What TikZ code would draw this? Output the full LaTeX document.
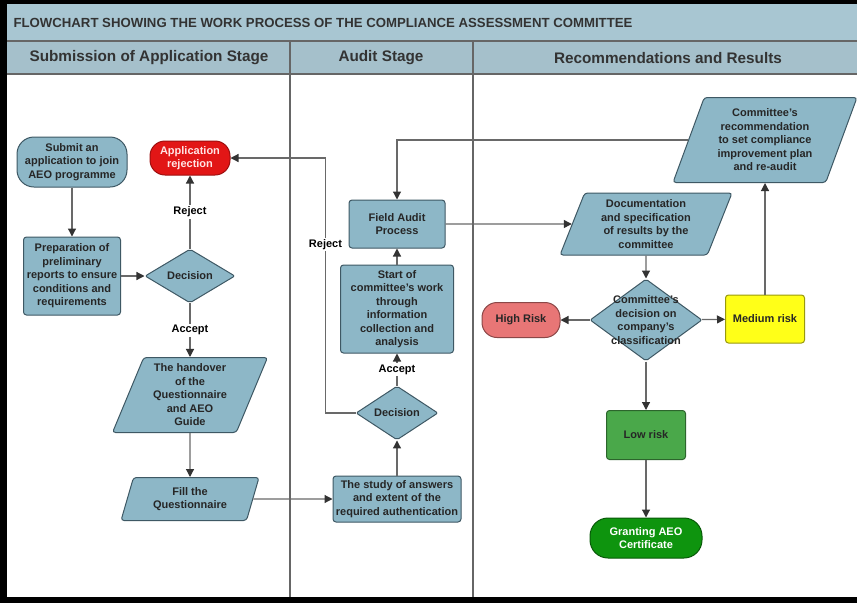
\documentclass[tikz,border=0pt]{standalone}
\usepackage{fontspec}
\setmainfont{Liberation Sans}
\usetikzlibrary{arrows.meta, shapes.geometric, positioning}

\definecolor{boxblue}{RGB}{141,183,199}
\definecolor{boxline}{RGB}{62,88,100}
\definecolor{headblue}{RGB}{168,198,210}
\definecolor{flowgray}{RGB}{105,105,105}
\definecolor{rejectred}{RGB}{226,22,22}
\definecolor{highred}{RGB}{232,118,118}
\definecolor{medyellow}{RGB}{255,255,24}
\definecolor{lowgreen}{RGB}{74,168,74}
\definecolor{grantgreen}{RGB}{14,148,14}

\tikzset{
  box/.style={draw=boxline, fill=boxblue, line width=1pt, rounded corners=3pt,
    align=center, inner sep=1pt, text=black!85,
    font=\fontsize{11}{13.5}\selectfont\bfseries},
  term/.style={box, rounded corners=17pt},
  decision/.style={box, diamond, rounded corners=2pt, inner sep=0pt},
  data/.style={box, trapezium, trapezium left angle=64, trapezium right angle=116,
    trapezium stretches body, rounded corners=3pt},
  lbl/.style={fill=white, inner sep=1.5pt, font=\fontsize{11}{13.5}\selectfont\bfseries},
  flow/.style={->, draw=flowgray, line width=1.2pt},
  lane/.style={draw=gray!80!black, line width=1.3pt},
}

\begin{document}
\begin{tikzpicture}[x=1pt, y=-1pt, >={Triangle[length=8pt,width=8pt,color=black!80]}]

    \useasboundingbox (0,0) rectangle (857,603);

    % frame, title and lane heads
    \fill[black] (0,0) rectangle (857,603);
    \fill[white] (7,4) rectangle (857,597);
    \fill[headblue] (7,4) rectangle (857,41);
    \fill[headblue!92!gray] (7,41) rectangle (857,74);
    \draw[lane] (7,41) -- (857,41) (7,74) -- (857,74);
    \draw[lane] (290,41) -- (290,597) (473,41) -- (473,597);

    \node[anchor=west, font=\fontsize{13.2}{15}\selectfont\bfseries, text=black!80] (title) at (10,23)
        {FLOWCHART SHOWING THE WORK PROCESS OF THE COMPLIANCE ASSESSMENT COMMITTEE};
    \node[font=\fontsize{15.3}{17}\selectfont\bfseries, text=black!80] (head_sub) at (149,58) {Submission of Application Stage};
    \node[font=\fontsize{15.3}{17}\selectfont\bfseries, text=black!80] (head_aud) at (381,58) {Audit Stage};
    \node[font=\fontsize{15.3}{17}\selectfont\bfseries, text=black!80] (head_rec) at (668,58) {Recommendations and Results};

    % submission of application
    \node[term, minimum width=110pt, minimum height=50pt]  (submit)   at (72,162)  {Submit an\\application to join\\AEO programme};
    \node[term, fill=rejectred, draw=rejectred!70!black, text=white!90!red,
          rounded corners=15pt, minimum width=80pt, minimum height=34pt] (reject1) at (190,158) {Application\\rejection};
    \node[box, minimum width=97pt, minimum height=78pt]    (prep)     at (72,276)  {Preparation of\\preliminary\\reports to ensure\\conditions and\\requirements};
    \node[decision, minimum width=90pt, minimum height=48pt] (dec1)   at (190,276) {Decision};
    \node[data, minimum width=155pt, minimum height=75pt]  (handover) at (190,395) {The handover\\of the\\Questionnaire\\and AEO\\Guide};
    \node[data, minimum width=138pt, minimum height=43pt]  (fill)     at (190,499) {Fill the\\Questionnaire};

    % audit
    \node[box, minimum width=96pt, minimum height=48pt]    (field)    at (397,224) {Field Audit\\Process};
    \node[box, minimum width=113pt, minimum height=88pt]   (start)    at (397,309) {Start of\\committee's work\\through\\information\\collection and\\analysis};
    \node[decision, minimum width=82pt, minimum height=47pt] (dec2)   at (397,413) {Decision};
    \node[box, minimum width=128pt, minimum height=46pt]   (study)    at (397,499) {The study of answers\\and extent of the\\required authentication};

    % recommendations and results
    \node[data, minimum width=172pt, minimum height=62pt]  (doc)      at (646,224) {Documentation\\and specification\\of results by the\\committee};
    \node[data, minimum width=184pt, minimum height=85pt]  (rec)      at (765,140) {Committee's\\recommendation\\to set compliance\\improvement plan\\and re-audit};
    \node[decision, minimum width=112pt, minimum height=82pt] (dec3)  at (646,320) {};
    \node[font=\fontsize{11}{13.5}\selectfont\bfseries, align=center, text=black!85] (dec3_txt) at (dec3) {Committee's\\decision on\\company's\\classification};
    \node[term, fill=highred, draw=highred!60!black, rounded corners=15pt,
          minimum width=78pt, minimum height=35pt]         (high)     at (521,320) {High Risk};
    \node[box, fill=medyellow, draw=medyellow!60!black, minimum width=79pt, minimum height=48pt] (medium) at (765,319) {Medium risk};
    \node[box, fill=lowgreen, draw=lowgreen!60!black, minimum width=79pt, minimum height=49pt]   (low)    at (646,435) {Low risk};
    \node[term, fill=grantgreen, draw=grantgreen!60!black, text=white, rounded corners=18pt,
          minimum width=112pt, minimum height=40pt]        (grant)    at (646,538) {Granting AEO\\Certificate};

    \path[flow] (submit) edge (prep)
        (prep) edge (dec1)
        (dec1) edge node[lbl] {Reject} (reject1)
        edge node[lbl] {Accept} (handover)
        (handover) edge (fill)
        (fill) edge (study)
        (study) edge (dec2)
        (dec2) edge node[lbl] {Accept} (start)
        (start) edge (field)
        (field) edge (doc)
        (doc) edge (dec3)
        (dec3) edge (high)
        edge (medium)
        edge (low)
        (low) edge (grant)
        (medium) edge (rec)
        ;

    \draw[flow] (dec2.west) -- ++(-30,0) |- node[lbl, pos=0.33] {Reject} (reject1.east);
    \draw[flow] (rec.west) -| (field.north);

\end{tikzpicture}
\end{document}
